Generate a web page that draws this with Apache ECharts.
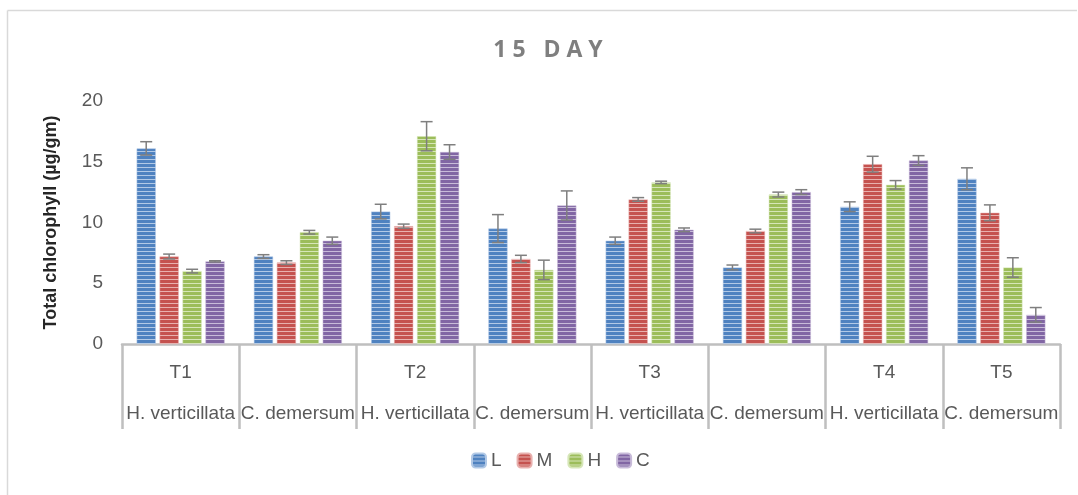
<!DOCTYPE html>
<html>
<head>
<meta charset="utf-8">
<title>15 DAY</title>
<script src="https://cdn.jsdelivr.net/npm/echarts@6/dist/echarts.min.js"></script>
<style>
  html, body { margin: 0; padding: 0; background: #fff; }
  #chart { width: 1078px; height: 495px; }
</style>
</head>
<body>
<div id="chart"></div>
<script>
// data
var treatments = ['T1', '', 'T2', '', 'T3', '', 'T4', 'T5'];
var species = ['H. verticillata', 'C. demersum', 'H. verticillata', 'C. demersum',
  'H. verticillata', 'C. demersum', 'H. verticillata', 'C. demersum'];
var seriesNames = ['L', 'M', 'H', 'C'];
var valuesL = [16.1, 7.2, 10.9, 9.5, 8.5, 6.3, 11.3, 13.6];
var valuesM = [7.2, 6.7, 9.7, 7.0, 11.9, 9.3, 14.8, 10.8];
var valuesH = [6.0, 9.2, 17.1, 6.1, 13.3, 12.3, 13.1, 6.3];
var valuesC = [6.8, 8.5, 15.8, 11.4, 9.4, 12.5, 15.1, 2.4];
var errL = [0.55, 0.15, 0.6, 1.15, 0.3, 0.2, 0.4, 0.9];
var errM = [0.2, 0.15, 0.17, 0.3, 0.15, 0.15, 0.65, 0.65];
var errH = [0.15, 0.15, 1.2, 0.8, 0.1, 0.2, 0.35, 0.8];
var errC = [0.05, 0.3, 0.6, 1.2, 0.15, 0.2, 0.4, 0.6];
var yTicks = [0, 5, 10, 15, 20];

var allValues = [valuesL, valuesM, valuesH, valuesC];
var allErr = [errL, errM, errH, errC];
var baseColors = ['#4f82c0', '#c5524f', '#9cbd5a', '#8166a4'];
var lightColors = ['#b2c9e6', '#e8b0ae', '#d6e6b8', '#c8bbd9'];

// striped fill like the original excel texture
function stripe(dark, light) {
  var c = document.createElement('canvas');
  c.width = 4;
  c.height = 4;
  var ctx = c.getContext('2d');
  ctx.fillStyle = dark;
  ctx.fillRect(0, 0, 4, 4);
  ctx.fillStyle = light;
  ctx.fillRect(0, 3, 4, 1);
  return c;
}

var catGap = 0.25;
var barGap = 0.2;

function errorRender(s) {
  return function (params, api) {
    var idx = api.value(0);
    var v = api.value(1);
    var e = api.value(2);
    var band = api.size([1, 0])[0];
    var inner = band * (1 - catGap);
    var bw = inner / (4 + 3 * barGap);
    var off = -inner / 2 + s * bw * (1 + barGap) + bw / 2;
    var hi = api.coord([idx, v + e]);
    var lo = api.coord([idx, v - e]);
    var x = hi[0] + off;
    var cap = 6;
    var style = { stroke: '#7f7f7f', lineWidth: 1.5 };
    return {
      type: 'group',
      children: [
        { type: 'line', shape: { x1: x, y1: hi[1], x2: x, y2: lo[1] }, style: style },
        { type: 'line', shape: { x1: x - cap, y1: hi[1], x2: x + cap, y2: hi[1] }, style: style },
        { type: 'line', shape: { x1: x - cap, y1: lo[1], x2: x + cap, y2: lo[1] }, style: style }
      ]
    };
  };
}

var series = [];
seriesNames.forEach(function (name, s) {
  series.push({
    name: name,
    type: 'bar',
    barCategoryGap: '25%',
    barGap: '20%',
    itemStyle: {
      color: { image: stripe(baseColors[s], lightColors[s]), repeat: 'repeat' },
      borderColor: lightColors[s],
      borderWidth: 0.5
    },
    data: allValues[s]
  });
});
seriesNames.forEach(function (name, s) {
  series.push({
    name: 'err' + name,
    type: 'custom',
    z: 5,
    renderItem: errorRender(s),
    data: allValues[s].map(function (v, i) { return [i, v, allErr[s][i]]; })
  });
});

var myChart = echarts.init(document.getElementById('chart'));
var option = {
  backgroundColor: '#fff',
  animation: false,
  title: {
    text: '1 5   D A Y',
    left: 543,
    top: 34,
    textAlign: 'center',
    textStyle: {
      color: '#7f7f7f',
      fontSize: 23,
      fontWeight: 'bold',
      fontFamily: 'Open Sans'
    }
  },
  graphic: [
    { type: 'line', shape: { x1: 7.5, y1: 10.5, x2: 1077, y2: 10.5 }, style: { stroke: '#d9d9d9', lineWidth: 1.5 } },
    { type: 'line', shape: { x1: 7.5, y1: 10.5, x2: 7.5, y2: 495 }, style: { stroke: '#d9d9d9', lineWidth: 1.5 } }
  ],
  legend: {
    data: seriesNames,
    bottom: 20,
    left: 466,
    itemWidth: 14,
    itemHeight: 14,
    itemGap: 15,
    textStyle: { color: '#595959', fontSize: 19, fontFamily: 'Liberation Sans' }
  },
  grid: {
    left: 122,
    right: 18,
    top: 101,
    bottom: 151
  },
  xAxis: {
    type: 'category',
    data: species,
    axisLine: { lineStyle: { color: '#bfbfbf', width: 2.5 } },
    axisTick: {
      show: true,
      interval: 0,
      length: 85,
      lineStyle: { color: '#bfbfbf', width: 2.5 }
    },
    axisLabel: {
      interval: 0,
      margin: 8,
      color: '#595959',
      fontSize: 19,
      lineHeight: 41,
      fontFamily: 'Liberation Sans',
      formatter: function (val, i) {
        return (treatments[i] || ' ') + '\n' + val;
      }
    }
  },
  yAxis: {
    type: 'value',
    min: yTicks[0],
    max: yTicks[yTicks.length - 1],
    interval: 5,
    name: 'Total chlorophyll (µg/gm)',
    nameLocation: 'middle',
    nameGap: 62,
    nameTextStyle: { color: '#262626', fontSize: 18, fontWeight: 'bold', fontFamily: 'Liberation Sans' },
    axisLine: { show: false },
    axisTick: { show: false },
    splitLine: { show: false },
    axisLabel: { color: '#595959', fontSize: 19, margin: 19, fontFamily: 'Liberation Sans' }
  },
  series: series
};
myChart.setOption(option);
window.addEventListener('resize', function () {
  myChart.resize();
});
</script>
</body>
</html>
